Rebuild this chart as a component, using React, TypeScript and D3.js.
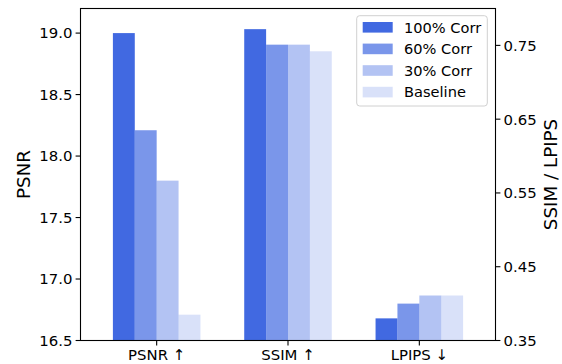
import React from "react";
import * as d3 from "d3";

const metrics = ["PSNR ↑", "SSIM ↑", "LPIPS ↓"];
const seriesNames = ["100% Corr", "60% Corr", "30% Corr", "Baseline"];
const seriesOpacity = [1, 0.7, 0.4, 0.2];
const psnrValues = [19.0, 18.21, 17.8, 16.71];
const ssimValues = [0.772, 0.751, 0.751, 0.742];
const lpipsValues = [0.38, 0.4, 0.411, 0.411];
const leftTicks = [16.5, 17.0, 17.5, 18.0, 18.5, 19.0];
const rightTicks = [0.35, 0.45, 0.55, 0.65, 0.75];

const W = 562;
const H = 364;
const M = { left: 80.5, right: 495.5, top: 8.5, bottom: 340.5 };
const BASE = "#4169E1";
const FONT = "'DejaVu Sans', sans-serif";

export default function App() {
  const x = d3.scaleLinear().domain([-0.58, 2.58]).range([M.left, M.right]);
  const yL = d3.scaleLinear().domain([16.5, 19.2]).range([M.bottom, M.top]);
  const yR = d3.scaleLinear().domain([0.35, 0.8]).range([M.bottom, M.top]);
  const bw = 1 / 6;

  const groups = [
    { values: psnrValues, scale: yL, base: 16.5 },
    { values: ssimValues, scale: yR, base: 0.35 },
    { values: lpipsValues, scale: yR, base: 0.35 },
  ];

  const bars: React.ReactNode[] = [];
  groups.forEach((g, gi) => {
    g.values.forEach((v, si) => {
      const x0 = x(gi + (si - 2) * bw);
      const x1 = x(gi + (si - 1) * bw);
      bars.push(
        <rect
          key={`b${gi}-${si}`}
          x={x0}
          y={g.scale(v)}
          width={x1 - x0}
          height={g.scale(g.base) - g.scale(v)}
          fill={BASE}
          fillOpacity={seriesOpacity[si]}
        />
      );
    });
  });

  const fmt1 = d3.format(".1f");
  const fmt2 = d3.format(".2f");
  const textStyle = { fontFamily: FONT };
  const TICK_FS = 14.9;

  return (
    <svg
      width={W}
      height={H}
      style={{ position: "absolute", left: 0, top: 0, background: "#fff", fontFamily: FONT }}
    >
      <rect x={0} y={0} width={W} height={H} fill="#fff" />
      {bars}
      <rect
        x={M.left}
        y={M.top}
        width={M.right - M.left}
        height={M.bottom - M.top}
        fill="none"
        stroke="#000"
        strokeWidth={1.1}
      />
      {leftTicks.map((t) => (
        <g key={`l${t}`}>
          <line x1={M.left - 4.9} x2={M.left} y1={yL(t)} y2={yL(t)} stroke="#000" strokeWidth={1.1} />
          <text x={M.left - 8} y={yL(t)} dy="0.36em" textAnchor="end" fontSize={TICK_FS} fill="#000" style={textStyle}>
            {fmt1(t)}
          </text>
        </g>
      ))}
      {rightTicks.map((t) => (
        <g key={`r${t}`}>
          <line x1={M.right} x2={M.right + 4.9} y1={yR(t)} y2={yR(t)} stroke="#000" strokeWidth={1.1} />
          <text x={M.right + 8} y={yR(t)} dy="0.36em" textAnchor="start" fontSize={TICK_FS} fill="#000" style={textStyle}>
            {fmt2(t)}
          </text>
        </g>
      ))}
      {metrics.map((m, i) => (
        <g key={`x${i}`}>
          <line x1={x(i)} x2={x(i)} y1={M.bottom} y2={M.bottom + 4.9} stroke="#000" strokeWidth={1.1} />
          <text x={x(i)} y={M.bottom + 19.5} textAnchor="middle" fontSize={TICK_FS} fill="#000" style={textStyle}>
            {m}
          </text>
        </g>
      ))}
      <text
        transform={`translate(${30},${(M.top + M.bottom) / 2}) rotate(-90)`}
        textAnchor="middle"
        fontSize={18.3}
        fill="#000"
        style={textStyle}
      >
        PSNR
      </text>
      <text
        transform={`translate(${556.5},${(M.top + M.bottom) / 2}) rotate(-90)`}
        textAnchor="middle"
        fontSize={18.3}
        fill="#000"
        style={textStyle}
      >
        SSIM / LPIPS
      </text>
      <rect x={356.7} y={15.7} width={130.6} height={90.3} rx={3} fill="#fff" fillOpacity={0.8} stroke="#d0d0d0" strokeWidth={1} />
      {seriesNames.map((s, i) => {
        const cy = 27.3 + i * 21.6;
        return (
          <g key={`lg${i}`}>
            <rect x={362.7} y={cy - 5.3} width={30} height={10.6} fill={BASE} fillOpacity={seriesOpacity[i]} />
            <text x={404} y={cy} dy="0.36em" fontSize={14.6} fill="#000" style={textStyle}>
              {s}
            </text>
          </g>
        );
      })}
    </svg>
  );
}
